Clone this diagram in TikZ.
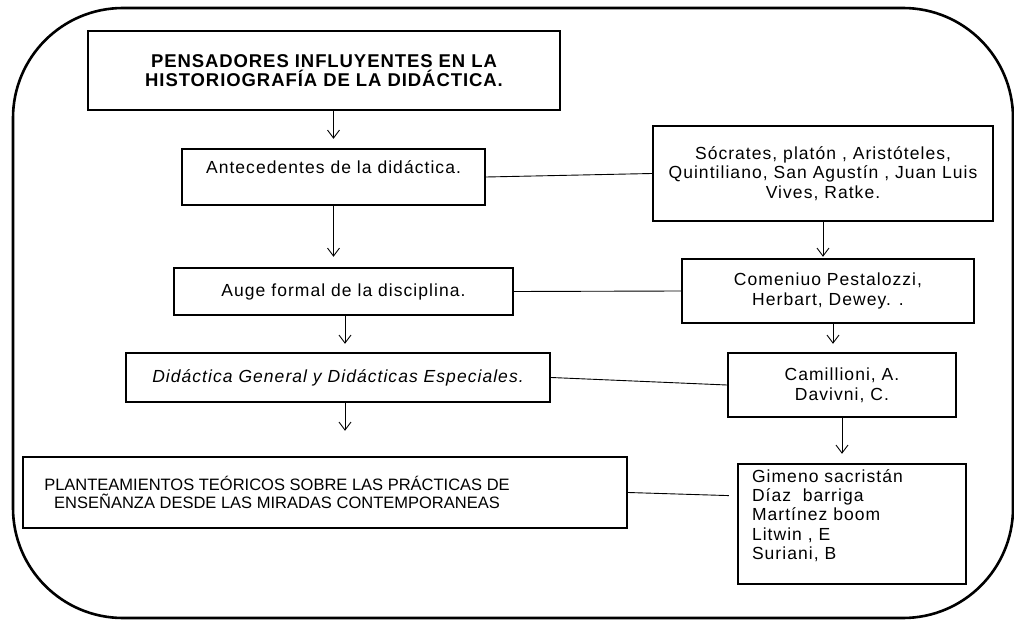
\documentclass[tikz,border=0pt]{standalone}
\usepackage{fontspec}
\setmainfont{Liberation Sans}[LetterSpace=6]
\usetikzlibrary{arrows.meta,calc}
\begin{document}
\begin{tikzpicture}[x=1pt,y=-1pt,
  box/.style={draw, line width=2.4pt, rectangle, inner sep=0pt, align=center,
    font=\fontsize{17.5}{19.8}\selectfont},
  conn/.style={line width=0.9pt},
  arr/.style={conn, -{Straight Barb[length=8pt,width=12pt]}}]
\useasboundingbox (0,0) rectangle (1014,620);
\draw[line width=2.6pt, rounded corners=110pt] (13,8) rectangle (1013,618);

\node[box, minimum width=472pt, minimum height=79pt,
  font=\bfseries\fontsize{18.5}{18.5}\selectfont\addfontfeatures{LetterSpace=5}] (title) at (324,70.5)
  {PENSADORES INFLUYENTES EN LA\\HISTORIOGRAFÍA DE LA DIDÁCTICA.};
\node[box, minimum width=303pt, minimum height=56pt] (ante) at (333.5,177)
  {Antecedentes de la didáctica.\\ \mbox{}};
\node[box, minimum width=339pt, minimum height=47pt] (auge) at (343.5,291.5)
  {Auge formal de la disciplina.};
\node[box, minimum width=424pt, minimum height=49pt] (didac) at (338,377.5)
  {\itshape Didáctica General y Didácticas Especiales.};
\node[box, minimum width=604pt, minimum height=71pt,
  font=\fontsize{16.5}{18.5}\selectfont\addfontfeatures{LetterSpace=0}] (plant) at (325,492.5)
  {PLANTEAMIENTOS TEÓRICOS SOBRE LAS PRÁCTICAS DE\hspace*{96pt}\\ENSEÑANZA DESDE LAS MIRADAS CONTEMPORANEAS\hspace*{96pt}};
\node[box, minimum width=340pt, minimum height=95pt] (socr) at (823,173.5)
  {Sócrates, platón , Aristóteles,\\Quintiliano, San Agustín , Juan Luis\\Vives, Ratke.};
\node[box, minimum width=292pt, minimum height=64pt] (come) at (828,291)
  {Comeniuo Pestalozzi,\\Herbart, Dewey. .};
\node[box, minimum width=228pt, minimum height=64pt] (cami) at (842,385)
  {Camillioni, A.\\Davivni, C.};
\node[box, minimum height=120pt, inner xsep=14pt, text width=200pt, align=left,
  font=\fontsize{17.5}{19.2}\selectfont] (gim) at (852,524)
  {Gimeno sacristán\\Díaz\ \ barriga\\Martínez boom\\Litwin , E\\Suriani, B\\ \mbox{}};

\coordinate (a3) at ($(auge.south)+(1.5,0)$);
\coordinate (a4) at ($(didac.south)+(7,0)$);
\coordinate (a6) at ($(come.south)+(5,0)$);
\coordinate (gl) at ($(gim.north west)!0.27!(gim.south west)$);

\draw[arr, shorten >=9pt] (ante.north |- title.south) -- (ante.north);
\draw[arr, shorten >=10pt] (ante.south) -- (ante.south |- auge.north);
\draw[arr, shorten >=8pt] (a3) -- (a3 |- didac.north);
\draw[arr, shorten >=25pt] (a4) -- (a4 |- plant.north);
\draw[arr, shorten >=1pt] (socr.south) -- (socr.south |- come.north);
\draw[arr, shorten >=8pt] (a6) -- (a6 |- cami.north);
\draw[arr, shorten >=9pt] (cami.south) -- (cami.south |- gim.north);

\draw[conn] (ante.east) -- (socr.west);
\draw[conn] (auge.east) -- (come.west);
\draw[conn] (didac.east) -- (cami.west);
\draw[conn, shorten >=8pt] (plant.east) -- (gl);
\end{tikzpicture}
\end{document}
